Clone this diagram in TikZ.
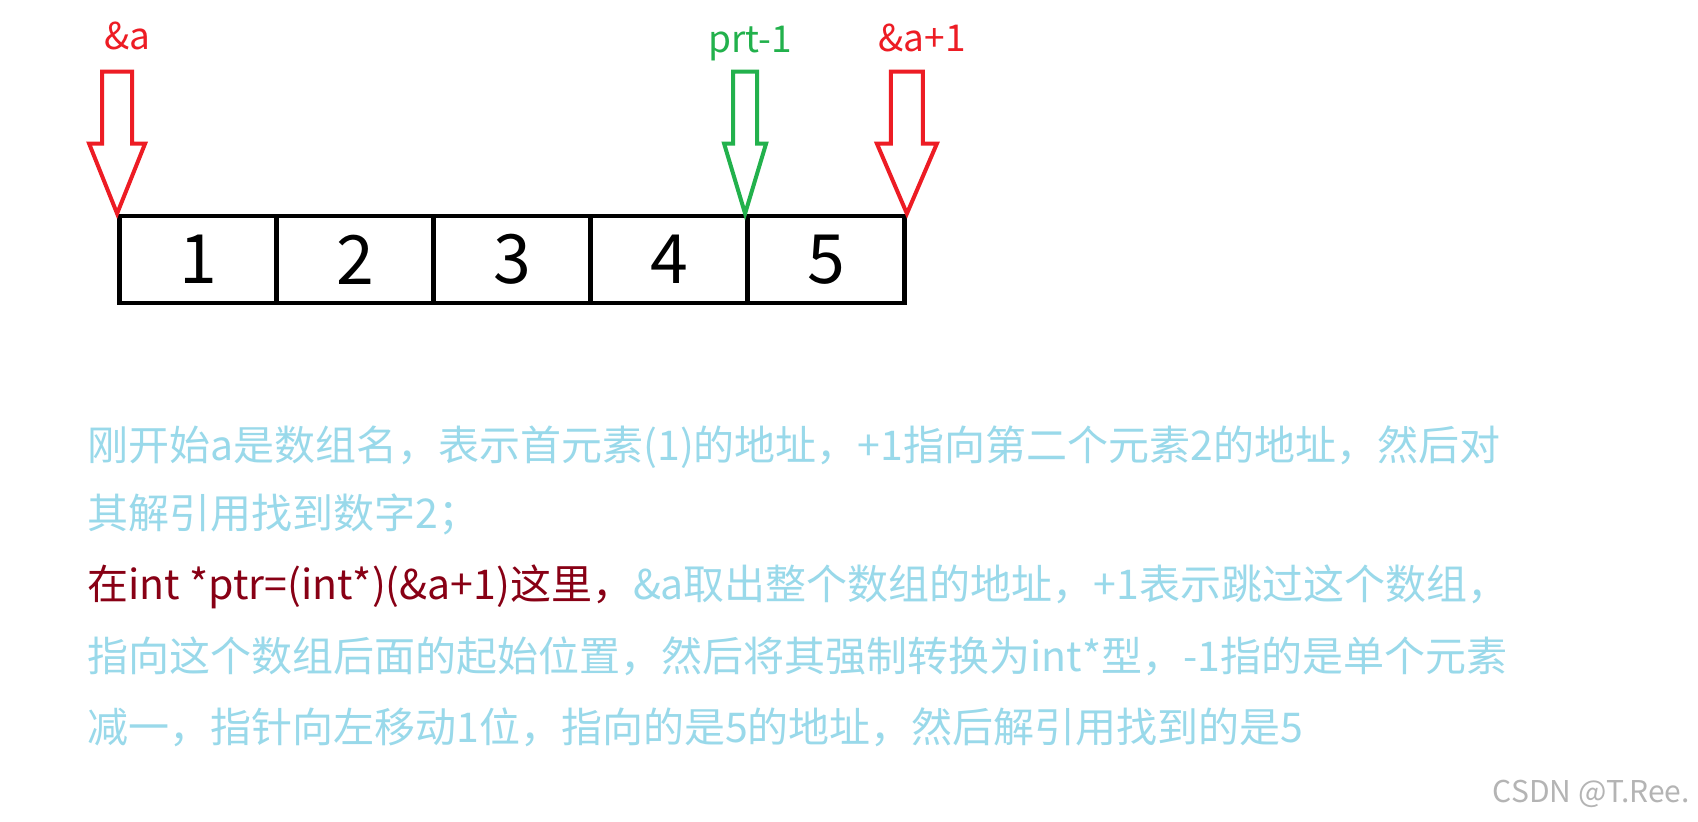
\documentclass[tikz,border=0pt]{standalone}
\usepackage{fontspec}
\setmainfont{Noto Sans CJK SC}
\usepackage{xcolor}
\definecolor{PaintRed}{HTML}{ED1C24}
\definecolor{PaintGreen}{HTML}{22B14C}
\definecolor{NoteBlue}{HTML}{99D9EA}
\definecolor{NoteRed}{HTML}{880015}
\definecolor{MarkGray}{HTML}{B4B4B4}
\usepackage{tikz}
\usetikzlibrary{positioning,calc}

\begin{document}
\begin{tikzpicture}[x=0.5pt, y=-0.5pt,
    cell/.style={draw, line width=2.4pt, minimum width=78.5pt, minimum height=43.5pt, inner sep=0pt, font=\fontsize{34pt}{34pt}\selectfont},
    ptrlabel/.style={anchor=base, inner sep=0pt, font=\fontsize{18.5pt}{18.5pt}\selectfont},
    noteline/.style={anchor=base west, inner sep=0pt, color=NoteBlue, font=\fontsize{20.5pt}{20.5pt}\selectfont}]
    \useasboundingbox[fill=white] (0,0) rectangle (1698,822);

    % Draw array cells
    \foreach \i in {1,...,5} {
      \node[cell] (b\i) at (41+157*\i, 259.5) {\i};
    }

    % Pointer arrows (tip on the cell corner)
    \coordinate (tipA) at (b1.north west);
    \coordinate (tipB) at (b5.north west);
    \coordinate (tipC) at (b5.north east);
    \foreach \t/\clr/\s/\h in {tipA/PaintRed/15/28, tipB/PaintGreen/12/21, tipC/PaintRed/16/30} {
      \draw[line width=2pt, color=\clr, line join=miter] (\t) -- ++(-\h,-70) -- ++(\h-\s,0) -- ++(0,-72)
        -- ++(2*\s,0) -- ++(0,72) -- ++(\h-\s,0) -- cycle;
    }

    % Pointer labels
    \node[ptrlabel, color=PaintRed] (lblA) at (127,50) {\&a};
    \node[ptrlabel, color=PaintGreen] (lblB) at (750,53) {prt-1};
    \node[ptrlabel, color=PaintRed] (lblC) at (922,52) {\&a+1};

    % Explanation text
    \node[noteline] (n1) at (87,461) {刚开始a是数组名，表示首元素(1)的地址，+1指向第二个元素2的地址，然后对};
    \node[noteline] (n2) at (87,529) {其解引用找到数字2；};
    \node[noteline] (n3) at (87,600) {\textcolor{NoteRed}{在int *ptr=(int*)(\&a+1)这里，}\&a取出整个数组的地址，+1表示跳过这个数组，};
    \node[noteline] (n4) at (87,672) {指向这个数组后面的起始位置，然后将其强制转换为int*型，-1指的是单个元素};
    \node[noteline] (n5) at (87,743) {减一，指针向左移动1位，指向的是5的地址，然后解引用找到的是5};

    % Watermark
    \node[anchor=base east, inner sep=0pt, color=MarkGray, font=\fontsize{15pt}{15pt}\selectfont] (mark) at (1690,803) {CSDN @T.Ree.};
\end{tikzpicture}
\end{document}
